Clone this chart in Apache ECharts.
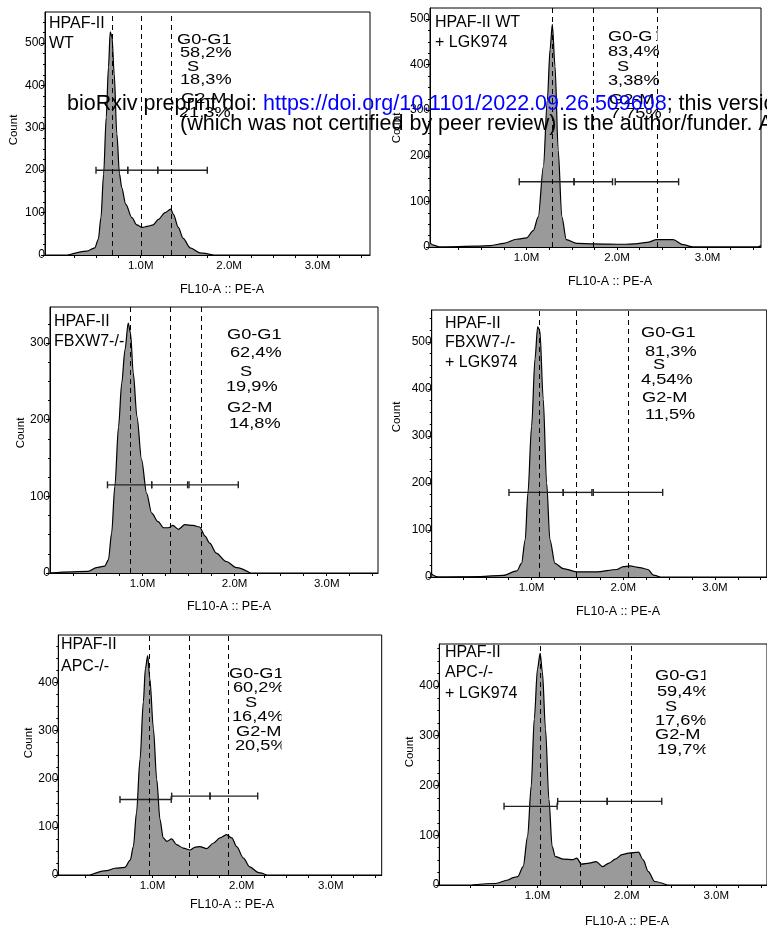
<!DOCTYPE html>
<html>
<head>
<meta charset="utf-8">
<script src="https://cdn.jsdelivr.net/npm/echarts@6/dist/echarts.min.js"></script>
<style>
  html, body { margin: 0; padding: 0; background: #fff; }
  #chart { width: 767px; height: 929px; }
</style>
</head>
<body>
<div id="chart"></div>
<script>
// FL10-A (PE-A, millions) vs count, one histogram per cell line / treatment
const wt = [[0.18,0],[0.39,9],[0.48,17],[0.52,37],[0.55,88],[0.58,191],[0.61,325],[0.635,443],[0.655,526],[0.675,514],[0.70,427],[0.73,285],[0.76,191],[0.785,159],[0.83,120],[0.90,88],[0.955,71],[1.02,65],[1.085,68],[1.14,71],[1.20,84],[1.275,100],[1.34,108],[1.37,96],[1.425,65],[1.48,39],[1.56,17],[1.67,5],[1.82,0]];
const wtLgk = [[-0.066,9],[-0.03,4],[0.044,0],[0.45,2],[0.60,3],[0.75,8],[0.89,17],[1.0,20],[1.075,36],[1.13,66],[1.186,176],[1.23,322],[1.26,433],[1.285,488],[1.315,396],[1.35,212],[1.39,66],[1.44,16],[1.555,8],[1.74,7],[2.07,6],[2.2,7],[2.33,10],[2.44,16],[2.62,16],[2.73,5],[2.84,0],[3.55,0],[3.59,3]];
const fbxw7 = [[0,0],[0.41,2],[0.50,7],[0.59,9],[0.63,17],[0.665,52],[0.70,113],[0.74,191],[0.775,248],[0.81,291],[0.845,326],[0.87,313],[0.90,261],[0.94,204],[0.99,148],[1.045,104],[1.10,78],[1.17,67],[1.23,59],[1.28,59],[1.33,62],[1.39,57],[1.46,63],[1.55,62],[1.62,60],[1.68,48],[1.73,39],[1.80,26],[1.91,15],[2.02,7],[2.17,0]];
const fbxw7Lgk = [[-0.09,6],[-0.018,0],[0.44,1],[0.69,3.5],[0.84,13],[0.89,29],[0.93,79],[0.96,179],[1.0,321],[1.037,464],[1.066,532],[1.09,524],[1.127,378],[1.164,200],[1.20,79],[1.255,29],[1.345,18],[1.49,11],[1.71,11],[1.93,16],[2.0,22],[2.07,23.5],[2.18,20],[2.27,16],[2.33,4],[2.40,0]];
const apc = [[0.30,0],[0.486,9],[0.58,14],[0.69,16],[0.75,31],[0.785,59],[0.82,129],[0.86,241],[0.897,360],[0.92,429],[0.946,456],[0.97,408],[1.01,304],[1.047,199],[1.084,115],[1.12,77],[1.16,70],[1.215,75],[1.27,63],[1.345,56],[1.42,52],[1.48,58],[1.53,59],[1.61,55],[1.68,66],[1.757,77],[1.83,84],[1.89,77],[1.944,59],[2.02,35],[2.09,17],[2.19,5],[2.28,0]];
const apcLgk = [[0.27,0],[0.53,3],[0.67,10],[0.73,15],[0.78,17],[0.84,37],[0.89,98],[0.93,199],[0.964,333],[1.0,434],[1.03,465],[1.055,428],[1.09,313],[1.128,172],[1.164,77],[1.2,57],[1.29,52],[1.40,51],[1.44,54],[1.49,42],[1.58,44],[1.655,47],[1.73,37],[1.80,44],[1.87,52],[1.946,61],[2.02,64],[2.13,66],[2.18,51],[2.24,27],[2.31,7],[2.45,0]];

// dashed cut lines (M)
const wtCuts = [0.68, 1.01, 1.35];
const wtLgkCuts = [1.285, 1.74, 2.44];
const fbxw7Cuts = [0.87, 1.30, 1.64];
const fbxw7LgkCuts = [1.08, 1.485, 2.05];
const apcCuts = [0.96, 1.41, 1.85];
const apcLgkCuts = [1.03, 1.48, 2.05];

// gates: [from, to, drawn at count]
const wtGates = [[0.494,0.853,200],[0.853,1.192,200],[1.192,1.753,200]];
const wtLgkGates = [[0.92,1.525,143],[1.525,1.95,143],[1.98,2.68,143]];
const fbxw7Gates = [[0.62,1.10,115],[1.10,1.49,115],[1.505,2.04,115]];
const fbxw7LgkGates = [[0.753,1.345,180],[1.345,1.658,180],[1.673,2.43,180]];
const apcGates = [[0.635,1.21,157],[1.215,1.645,164],[1.645,2.18,164]];
const apcLgkGates = [[0.626,1.22,158],[1.226,1.78,168],[1.78,2.39,168]];

const phases = ['G0-G1', 'S', 'G2-M'];
const wtPct = ['58,2%', '18,3%', '21,3%'];
const wtLgkPct = ['83,4%', '3,38%', '7,75%'];
const fbxw7Pct = ['62,4%', '19,9%', '14,8%'];
const fbxw7LgkPct = ['81,3%', '4,54%', '11,5%'];
const apcPct = ['60,2%', '16,4%', '20,5%'];
const apcLgkPct = ['59,4%', '17,6%', '19,7%'];

const wtName = ['HPAF-II', 'WT'];
const wtLgkName = ['HPAF-II WT', '+ LGK974'];
const fbxw7Name = ['HPAF-II', 'FBXW7-/-'];
const fbxw7LgkName = ['HPAF-II', 'FBXW7-/-', '+ LGK974'];
const apcName = ['HPAF-II', 'APC-/-'];
const apcLgkName = ['HPAF-II', 'APC-/-', '+ LGK974'];

const xTicks = [0.25, 0.5, 0.75, 1, 1.25, 1.5, 1.75, 2, 2.25, 2.5, 2.75, 3, 3.25, 3.5];
const xLabels = [1, 2, 3];
const yLabels = [0, 100, 200, 300, 400, 500];

const noticeA = 'bioRxiv preprint doi: ';
const noticeUrl = 'https://doi.org/10.1101/2022.09.26.509608';
const noticeB = '; this version posted September 26, 2022. The copyright holder for this preprint';
const noticeLine2 = '(which was not certified by peer review) is the author/funder. All rights reserved. No reuse allowed without permission.';

const panels = [
  { curve: wt, cuts: wtCuts, gates: wtGates, pct: wtPct, name: wtName },
  { curve: wtLgk, cuts: wtLgkCuts, gates: wtLgkGates, pct: wtLgkPct, name: wtLgkName },
  { curve: fbxw7, cuts: fbxw7Cuts, gates: fbxw7Gates, pct: fbxw7Pct, name: fbxw7Name },
  { curve: fbxw7Lgk, cuts: fbxw7LgkCuts, gates: fbxw7LgkGates, pct: fbxw7LgkPct, name: fbxw7LgkName },
  { curve: apc, cuts: apcCuts, gates: apcGates, pct: apcPct, name: apcName },
  { curve: apcLgk, cuts: apcLgkCuts, gates: apcLgkGates, pct: apcLgkPct, name: apcLgkName }
];

// pixel layout of each panel and its texts
const layout = [
  { left: 45, top: 12, width: 325, height: 243, xmin: -0.083, xmax: 3.594, ymax: 573,
    nameX: 49, nameY: [24, 44], annX: [177, 180, 187, 180, 181, 179], annY: [40, 53, 67, 80, 99, 113],
    count: [14, 130], xname: [222, 290], clips: [] },
  { left: 430, top: 8, width: 331, height: 239, xmin: -0.066, xmax: 3.59, ymax: 524,
    nameX: 435, nameY: [23, 43], annX: [608, 608, 617, 608, 609, 610], annY: [37, 52, 67, 81, 100, 114],
    count: [397, 128], xname: [610, 282], clips: [[651.8, 29, 4.3, 16], [657.4, 29, 10, 16]] },
  { left: 50, top: 307, width: 328, height: 266, xmin: -0.004, xmax: 3.557, ymax: 347,
    nameX: 54, nameY: [322, 342], annX: [227, 230, 240, 226, 227, 229], annY: [335, 353, 372, 387, 408, 424],
    count: [21, 433], xname: [229, 607], clips: [] },
  { left: 431.7, top: 310, width: 335, height: 267, xmin: -0.09, xmax: 3.565, ymax: 568,
    nameX: 445, nameY: [324, 343, 363], annX: [641, 645, 653, 641, 642, 645], annY: [333, 352, 365, 380, 398, 415],
    count: [397, 417], xname: [618, 612], clips: [] },
  { left: 58.3, top: 635, width: 323.4, height: 240, xmin: -0.057, xmax: 3.571, ymax: 499,
    nameX: 61, nameY: [645, 667], annX: [229, 233, 245, 232, 236, 235], annY: [674, 688, 703, 717, 732, 746],
    count: [29, 743], xname: [232, 905], clips: [[281.5, 664, 20, 92]] },
  { left: 439.3, top: 644, width: 336, height: 241, xmin: -0.098, xmax: 3.567, ymax: 484,
    nameX: 445, nameY: [653, 673, 694], annX: [655, 657, 665, 655, 655, 657], annY: [676, 692, 707, 721, 735, 750],
    count: [410, 752], xname: [627, 922], clips: [[705.5, 664, 24, 95]] }
];

const FONT = "'Liberation Sans', Arial, Helvetica, sans-serif";
const chart = echarts.init(document.getElementById('chart'));

const grids = [];
const xAxes = [];
const yAxes = [];
const series = [];
const graphics = [];

const text = (x, y, str, size, extra) => Object.assign({
  type: 'text', x: x, y: y, z: 10,
  style: { text: str, fontSize: size, fontFamily: FONT, fill: '#000',
    align: 'left', textAlign: 'left', verticalAlign: 'middle', textVerticalAlign: 'middle' }
}, extra || {});

const centered = (x, y, str, size, extra) => Object.assign({
  type: 'text', x: x, y: y, z: 10,
  style: { text: str, fontSize: size, fontFamily: FONT, fill: '#000',
    align: 'center', textAlign: 'center', verticalAlign: 'middle', textVerticalAlign: 'middle' }
}, extra || {});

panels.forEach((p, i) => {
  const L = layout[i];
  const yl = yLabels.filter(v => v < L.ymax - 5);
  grids.push({ left: L.left, top: L.top, width: L.width, height: L.height,
    show: true, borderColor: '#000', borderWidth: 1, backgroundColor: 'transparent' });
  xAxes.push({
    type: 'value', gridIndex: i, min: L.xmin, max: L.xmax,
    axisLine: { show: true, onZero: false, lineStyle: { color: '#000', width: 1 } },
    axisTick: { show: true, length: 3, customValues: xTicks, lineStyle: { color: '#000' } },
    axisLabel: { customValues: xLabels, formatter: v => v.toFixed(1) + 'M', margin: 5,
      fontSize: 11.5, color: '#000', fontFamily: FONT },
    splitLine: { show: false }
  });
  yAxes.push({
    type: 'value', gridIndex: i, min: 0, max: L.ymax, interval: 100,
    axisLine: { show: true, onZero: false, lineStyle: { color: '#000', width: 1 } },
    axisTick: { show: true, length: 4, customValues: yl, lineStyle: { color: '#000' } },
    minorTick: { show: true, splitNumber: 4, length: 2, lineStyle: { color: '#000' } },
    axisLabel: { customValues: yl, margin: 0, fontSize: 12, color: '#000', fontFamily: FONT },
    splitLine: { show: false },
    minorSplitLine: { show: false }
  });
  series.push({
    type: 'line', xAxisIndex: i, yAxisIndex: i, data: p.curve,
    symbol: 'none', showSymbol: false, smooth: 0.3, smoothMonotone: 'x',
    lineStyle: { color: '#000', width: 1.2 },
    areaStyle: { color: '#9a9a9a', opacity: 1 },
    markLine: {
      silent: true, symbol: ['none', 'none'], label: { show: false },
      lineStyle: { color: '#000', width: 1, type: [5, 4] },
      data: p.cuts.map(v => ({ xAxis: v }))
    },
    z: 2
  });
  series.push({
    type: 'custom', xAxisIndex: i, yAxisIndex: i, data: p.gates,
    encode: { x: [0, 1], y: 2 }, z: 3, silent: true,
    renderItem: (params, api) => {
      const a = api.coord([api.value(0), api.value(2)]);
      const b = api.coord([api.value(1), api.value(2)]);
      const cap = 3.5;
      const st = { stroke: '#222', lineWidth: 1.4 };
      return {
        type: 'group', children: [
          { type: 'line', shape: { x1: a[0], y1: a[1], x2: b[0], y2: b[1] }, style: st },
          { type: 'line', shape: { x1: a[0], y1: a[1] - cap, x2: a[0], y2: a[1] + cap }, style: st },
          { type: 'line', shape: { x1: b[0], y1: b[1] - cap, x2: b[0], y2: b[1] + cap }, style: st }
        ]
      };
    }
  });

  p.name.forEach((s, k) => graphics.push(text(L.nameX, L.nameY[k], s, 16)));
  const lines = [phases[0], p.pct[0], phases[1], p.pct[1], phases[2], p.pct[2]];
  lines.forEach((s, k) => graphics.push(text(L.annX[k], L.annY[k], s, 14, { scaleX: 1.3 })));
  L.clips.forEach(r => graphics.push({ type: 'rect', z: 20,
    shape: { x: r[0], y: r[1], width: r[2], height: r[3] }, style: { fill: '#fff' } }));
  graphics.push(centered(L.count[0], L.count[1], 'Count', 11.5, { rotation: Math.PI / 2 }));
  graphics.push(centered(L.xname[0], L.xname[1], 'FL10-A :: PE-A', 12.5));
});

// bioRxiv notice printed across the top of the figure
graphics.push({
  type: 'text', x: 67, y: 104, z: 100,
  style: {
    text: '{k|' + noticeA + '}{u|' + noticeUrl + '}{k|' + noticeB + '}',
    fontSize: 21.5, fontFamily: FONT, fill: '#000', align: 'left', verticalAlign: 'middle',
    rich: {
      k: { fontSize: 21.5, fontFamily: FONT, fill: '#000' },
      u: { fontSize: 21.5, fontFamily: FONT, fill: '#0000ff' }
    }
  }
});
graphics.push(text(180, 124, noticeLine2, 21.5, { z: 100 }));

chart.setOption({
  animation: false,
  backgroundColor: '#fff',
  grid: grids,
  xAxis: xAxes,
  yAxis: yAxes,
  series: series,
  graphic: { elements: graphics }
});
</script>
</body>
</html>
